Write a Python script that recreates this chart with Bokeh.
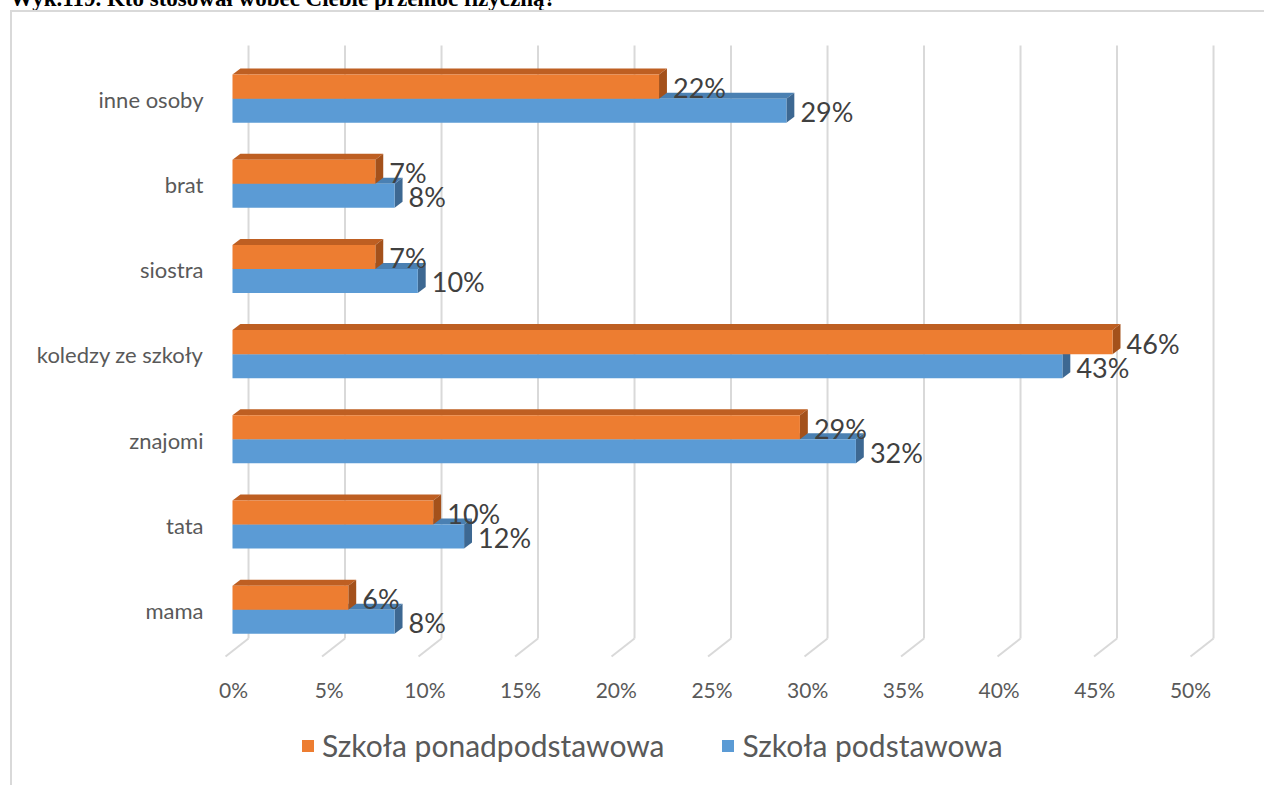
from bokeh.plotting import figure
from bokeh.layouts import column
from bokeh.models import (Range1d, FixedTicker, LinearAxis, Legend, LegendItem,
                          ColumnDataSource, Div)
from bokeh.core.properties import value
from bokeh.embed import file_html
from bokeh.resources import INLINE

# ---------------- data ----------------
categories = ["mama", "tata", "znajomi", "koledzy ze szkoły", "siostra", "brat", "inne osoby"]
ponadpodstawowa = [6.0, 10.4, 29.4, 45.6, 7.4, 7.4, 22.1]   # orange
podstawowa = [8.4, 12.0, 32.3, 43.0, 9.6, 8.4, 28.7]        # blue
series_names = ["Szkoła ponadpodstawowa", "Szkoła podstawowa"]
x_ticks = [0, 5, 10, 15, 20, 25, 30, 35, 40, 45, 50]
title_text = "Wyk.119. Kto stosował wobec Ciebie przemoc fizyczną?"

# ---------------- style ----------------
FONT = "Lato"
ORANGE, ORANGE_TOP, ORANGE_SIDE = "#ED7D31", "#BE5F22", "#A4511B"
BLUE, BLUE_TOP, BLUE_SIDE = "#5B9BD5", "#4A80B2", "#3D6892"
GRID = "#D9D9D9"
BAR_H = 0.282          # bar thickness (category units)
DX, DY = 0.41, 0.0704  # 3D depth of a bar (data units)
WALL_DX = 0.83         # back-wall offset of gridlines
FLOOR_DX = -0.36       # front floor offset
WALL_BOTTOM, FLOOR_FRONT, WALL_TOP = -0.329, -0.540, 6.634
W = 1264


def clean(fig):
    fig.xgrid.visible = False
    fig.ygrid.visible = False
    fig.outline_line_color = None
    fig.background_fill_color = None
    fig.border_fill_color = None


# ---------------- title strip (cut by the page top, as in the reference) ----------------
title_div = Div(
    text=('<div style="position:relative; top:-13px; left:10px; white-space:nowrap; '
          'font-family:\'Liberation Serif\'; font-weight:bold; font-size:23px; '
          f'line-height:23px; color:black;">{title_text}</div>'),
    width=W, height=10, margin=0, styles={"overflow": "hidden"})

# ---------------- main chart ----------------
p = figure(width=W, height=715,
           x_range=Range1d(-1.0363, 52.746), y_range=Range1d(-0.6458, 6.8099),
           output_backend="svg", toolbar_location=None,
           x_axis_location=None,
           min_border_left=212, min_border_right=14, min_border_top=20, min_border_bottom=60)
p.extra_x_ranges = {"lab": Range1d(-1.097, 53.135)}
clean(p)

p.yaxis.ticker = FixedTicker(ticks=list(range(len(categories))))
p.yaxis.major_label_overrides = {i: c for i, c in enumerate(categories)}
p.yaxis.axis_line_color = None
p.yaxis.major_tick_line_color = None
p.yaxis.minor_tick_line_color = None
p.yaxis.major_label_text_font = FONT
p.yaxis.major_label_text_font_size = "22px"
p.yaxis.major_label_text_color = "#595959"
p.yaxis.major_label_standoff = 3

xa = LinearAxis(x_range_name="lab", ticker=FixedTicker(ticks=x_ticks),
                major_label_overrides={t: f"{t}%" for t in x_ticks})
xa.axis_line_color = None
xa.major_tick_line_color = None
xa.minor_tick_line_color = None
xa.major_label_text_font = FONT
xa.major_label_text_font_size = "21px"
xa.major_label_text_color = "#595959"
xa.major_label_standoff = 5
p.add_layout(xa, "below")

wall_x = [t + WALL_DX for t in x_ticks]
floor_x = [t + FLOOR_DX for t in x_ticks]
n = len(x_ticks)
p.segment(x0=wall_x, y0=[WALL_BOTTOM] * n, x1=wall_x, y1=[WALL_TOP] * n,
          line_color=GRID, line_width=2)
p.segment(x0=wall_x, y0=[WALL_BOTTOM] * n, x1=floor_x, y1=[FLOOR_FRONT] * n,
          line_color=GRID, line_width=2)

mid = [i + 0.01 for i in range(len(categories))]


def bar3d(vals, bottoms, tops, front, topc, side):
    top_xs = [[0, v, v + DX, DX] for v in vals]
    top_ys = [[t, t, t + DY, t + DY] for t in tops]
    side_xs = [[v, v + DX, v + DX, v] for v in vals]
    side_ys = [[t, t + DY, b + DY, b] for b, t in zip(bottoms, tops)]
    p.patches(top_xs, top_ys, fill_color=topc, line_color=None)
    p.patches(side_xs, side_ys, fill_color=side, line_color=None)
    return p.quad(left=[0] * len(vals), right=vals, bottom=bottoms, top=tops,
                  fill_color=front, line_color=None)


bar3d(podstawowa, [m - BAR_H for m in mid], mid, BLUE, BLUE_TOP, BLUE_SIDE)
bar3d(ponadpodstawowa, mid, [m + BAR_H for m in mid], ORANGE, ORANGE_TOP, ORANGE_SIDE)

lab_src_o = ColumnDataSource(dict(x=ponadpodstawowa, y=[m + BAR_H / 2 for m in mid],
                                  t=[f"{v:.0f}%" for v in ponadpodstawowa]))
lab_src_b = ColumnDataSource(dict(x=podstawowa, y=[m - BAR_H / 2 for m in mid],
                                  t=[f"{v:.0f}%" for v in podstawowa]))
for src in (lab_src_o, lab_src_b):
    p.text(x="x", y="y", text="t", source=src, x_offset=14, y_offset=1,
           text_font=value(FONT), text_font_size="27px", text_color="#404040",
           text_baseline="middle", text_align="left")

# ---------------- legend strip ----------------
pl = figure(width=W, height=60, x_range=Range1d(0, 1), y_range=Range1d(0, 1),
            output_backend="svg", toolbar_location=None,
            x_axis_location=None, y_axis_location=None,
            min_border_left=0, min_border_right=0, min_border_top=0, min_border_bottom=0)
clean(pl)
# hidden renderers, used only to give the legend its colour swatches
sw_o = pl.quad(left=[0], right=[1], bottom=[0], top=[1], fill_color=ORANGE,
               line_color=None, visible=False)
sw_b = pl.quad(left=[0], right=[1], bottom=[0], top=[1], fill_color=BLUE,
               line_color=None, visible=False)
legend = Legend(items=[LegendItem(label=series_names[0], renderers=[sw_o]),
                       LegendItem(label=series_names[1], renderers=[sw_b])],
                orientation="horizontal", location=(88, 22),
                glyph_width=15, glyph_height=15, label_standoff=7, spacing=56,
                padding=0, margin=0, border_line_color=None, background_fill_alpha=0,
                inactive_fill_alpha=0,
                label_text_font=FONT, label_text_font_size="30px",
                label_text_color="#595959")
pl.add_layout(legend, "center")

frame_css = ("linear-gradient(#D9D9D9,#D9D9D9) 10px 10px / 2px 100% no-repeat, "
             "linear-gradient(#D9D9D9,#D9D9D9) 10px 10px / 100% 2px no-repeat, white")
layout = column(title_div, p, pl, spacing=0, styles={"background": frame_css})

open("out.html", "w").write(file_html(layout, INLINE))
